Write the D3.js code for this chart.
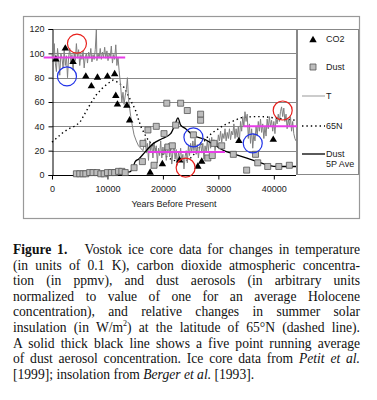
<!DOCTYPE html>
<html>
<head>
<meta charset="utf-8">
<script src="https://cdnjs.cloudflare.com/ajax/libs/d3/7.8.5/d3.min.js"></script>
<style>
  body { margin: 0; background: #fff; }
  #wrap { position: relative; width: 377px; height: 400px; overflow: hidden; }
  svg { position: absolute; left: 0; top: 0; }
  .cap { position: absolute; left: 13px; top: 242px; width: 347px; font-family: "Liberation Serif", "Times New Roman", serif; font-size: 13.6px; line-height: 15.6px; color: #111; }
  .cap div { text-align: justify; text-align-last: justify; white-space: nowrap; }
  .cap div.last { text-align-last: left; }
</style>
</head>
<body>
<div id="wrap"><svg width="377" height="400"></svg><div class="cap"></div></div>
<script>
// temperature (0.1 K), year before present
let tempSeries = [[0,100],[200,88],[400,108],[600,92],[800,85],[1000,104],[1200,95],[1400,82],[1600,100],[1800,96],[2000,88],[2200,103],[2400,90],[2600,98],[2800,80],[3000,97],[3200,104],[3400,92],[3600,99],[3800,86],[4000,100],[4200,94],[4400,108],[4600,96],[4800,103],[5000,90],[5200,99],[5400,95],[5600,102],[5800,88],[6000,97],[6200,100],[6400,92],[6600,101],[6800,96],[7000,104],[7200,93],[7400,99],[7600,95],[7800,103],[8000,120],[8100,94],[8300,100],[8500,96],[8700,104],[8900,95],[9100,101],[9300,97],[9500,105],[9700,96],[9900,102],[10100,94],[10300,100],[10500,97],[10700,106],[10900,92],[11100,99],[11300,95],[11500,107],[11700,90],[11900,97],[12100,86],[12400,72],[12600,60],[12800,68],[13000,58],[13200,65],[13400,70],[13600,80],[13800,62],[14000,55],[14200,48],[14500,40],[14800,33],[15200,28],[15600,24],[16000,22],[16400,20],[16800,30],[17000,18],[17200,26],[17400,12],[17600,28],[17800,20],[18000,25],[18200,14],[18400,27],[18600,18],[18800,24],[19000,10],[19200,22],[19400,16],[19600,28],[19800,14],[20000,23],[20200,17],[20400,25],[20600,12],[20800,20],[21000,26],[21200,15],[21400,22],[21600,9],[21800,19],[22000,24],[22200,13],[22400,21],[22600,8],[22800,18],[23000,14],[23200,22],[23400,11],[23600,17],[23800,5],[24000,15],[24200,20],[24400,10],[24600,24],[24800,16],[25000,26],[25200,18],[25400,28],[25600,20],[25800,30],[26000,17],[26200,25],[26400,14],[26600,22],[26800,27],[27000,18],[27200,26],[27400,13],[27600,24],[27800,19],[28000,28],[28200,20],[28400,30],[28600,22],[28800,31],[29000,24],[29200,29],[29400,20],[29600,26],[29800,23],[30000,33],[30200,28],[30400,36],[30600,27],[30800,34],[31000,30],[31200,38],[31400,28],[31600,35],[31800,30],[32000,38],[32200,29],[32400,36],[32600,33],[32800,42],[33000,30],[33200,38],[33400,31],[33600,40],[33800,28],[34000,44],[34200,36],[34400,48],[34600,40],[34800,52],[35000,44],[35200,50],[35400,30],[35600,42],[35800,26],[36000,38],[36200,22],[36400,34],[36600,28],[36800,40],[37000,32],[37200,44],[37400,36],[37600,46],[37800,35],[38000,42],[38200,30],[38400,40],[38600,32],[38800,46],[39000,38],[39200,48],[39400,40],[39600,45],[39800,36],[40000,44],[40200,34],[40400,46],[40600,42],[40800,50],[41000,44],[41200,52],[41400,56],[41600,48],[41800,55],[42000,44],[42200,50],[42400,38],[42600,46],[42800,40],[43000,48],[43200,36],[43400,44],[43600,34],[43800,30],[44000,28]]

// CO2 (ppmv, relative)
let co2Series = [[700,95],[2400,104],[3800,93],[6100,81],[7100,73],[8200,80],[10000,81],[11300,83],[11500,65],[11800,58],[13500,57],[14000,45],[17700,2],[19900,9],[23000,12],[26300,7],[27000,11],[33700,28],[39900,29]]

// dust (arbitrary units)
let dustSeries = [[4400,1],[5000,1],[5600,1],[6100,1],[6800,2],[7400,2],[8100,2],[8800,1],[9400,1],[10000,2],[10700,2],[11300,2],[12000,3],[12600,3],[13200,2],[14800,6],[16300,11],[16400,26],[17300,37],[18400,8],[18800,40],[20200,34],[20700,59],[20900,23],[21700,24],[22300,41],[23200,59],[24400,53],[25500,33],[26800,50],[26800,45],[28100,14],[28900,16],[29200,26],[30600,24],[32700,17],[35100,4],[36700,17],[37100,10],[38900,7],[40900,7],[42800,8]]

// dust 5 point running average
let dustAvgSeries = [[4400,1.5],[8000,1.5],[12000,2],[14000,2.5],[14600,6],[15000,11],[15600,13],[16800,19],[18300,26],[19900,30],[21400,34],[22300,43],[22700,47],[23200,41],[24100,38],[25300,33],[27700,29],[29500,24],[31000,20],[33000,17],[35000,14],[37000,11],[39000,8],[41000,7],[44000,7]]

// 65N summer insolation (relative)
let insolSeries = [[0,27],[1000,31],[2000,35],[3000,38],[4000,40],[5000,43],[6000,51],[7000,59],[8000,66],[9000,71],[10000,75],[11000,78],[12000,76],[13000,72],[14000,63],[15000,54],[16000,40],[17000,31],[18000,25],[19000,20],[20000,17],[21000,14],[22000,12],[23000,11],[24000,11],[25000,14],[26000,19],[27000,25],[28000,31],[29000,35],[30000,38],[31000,41],[32000,43],[33000,45],[34000,47],[36000,48],[38000,48],[40000,47],[42000,46],[44000,45]]

// annotations: magenta levels [from, to, value], circles [year, value, colour]
let levelMarks = [[-1500,13200,96.5],[17300,31200,19],[34500,45200,40]]
let circleMarks = [[4500,108,'red'],[2700,81,'blue'],[24100,6,'red'],[25500,31,'blue'],[36200,26,'blue'],[41600,53,'red']]

let xTicks = [0,10000,20000,30000,40000]
let yTicks = [0,20,40,60,80,100,120]

let svg = d3.select('svg')
let font = 'Liberation Sans, Arial, sans-serif'

let x = d3.scaleLinear().domain([0,44000]).range([52,296])
let y = d3.scaleLinear().domain([0,120]).range([175,29])

// outer frame
svg.append('rect').attr('x',23.5).attr('y',16.5).attr('width',336).attr('height',202)
   .attr('fill','none').attr('stroke','#999').attr('stroke-width',1.2)

// gridlines
svg.append('g').selectAll('line').data(yTicks.slice(1)).enter().append('line')
   .attr('x1',x(0)).attr('x2',x(44000)).attr('y1',d=>Math.round(y(d))+0.5).attr('y2',d=>Math.round(y(d))+0.5)
   .attr('stroke','#888').attr('stroke-width',1)
svg.append('line').attr('x1',x(44000)+0.5).attr('x2',x(44000)+0.5).attr('y1',y(120)).attr('y2',y(0))
   .attr('stroke','#888')

// axes
let gx = svg.append('g').attr('transform','translate(0,' + (Math.round(y(0))+0.5) + ')')
gx.call(d3.axisBottom(x).tickValues(d3.range(0,44001,2000)).tickSize(3).tickFormat(''))
gx.call(d3.axisBottom(x).tickValues(xTicks).tickSize(4).tickFormat(d3.format('d')))
gx.select('.domain').remove()
gx.append('line').attr('x1',x(0)).attr('x2',x(44000)).attr('stroke','#000')
gx.selectAll('text').attr('font-family',font).attr('font-size',9).attr('fill','#222').attr('dy','1.0em')

let gy = svg.append('g').attr('transform','translate(' + (Math.round(x(0))+0.5) + ',0)')
gy.call(d3.axisLeft(y).tickValues(d3.range(0,121,5)).tickSize(3).tickFormat(''))
gy.call(d3.axisLeft(y).tickValues(yTicks).tickSize(4).tickFormat(d3.format('d')))
gy.selectAll('text').attr('font-family',font).attr('font-size',9).attr('fill','#222').attr('x',-8)

svg.append('text').attr('x',174).attr('y',207).attr('text-anchor','middle')
   .attr('font-family',font).attr('font-size',9).attr('fill','#222').text('Years Before Present')

// series
let line = d3.line().x(d=>x(d[0])).y(d=>y(d[1]))

svg.append('path').datum(insolSeries).attr('d',line).attr('fill','none')
   .attr('stroke','#000').attr('stroke-width',1.4).attr('stroke-dasharray','1.4,3')

svg.append('path').datum(tempSeries).attr('d',line).attr('fill','none')
   .attr('stroke','#808080').attr('stroke-width',1)

svg.append('path').datum(dustAvgSeries).attr('d',d3.line().curve(d3.curveMonotoneX).x(d=>x(d[0])).y(d=>y(d[1])))
   .attr('fill','none').attr('stroke','#000').attr('stroke-width',1.3)

svg.append('g').selectAll('path').data(dustSeries).enter().append('path')
   .attr('d',d3.symbol(d3.symbolSquare,36))
   .attr('transform',d=>`translate(${x(d[0])},${y(d[1])})`)
   .attr('fill','#bdbdbd').attr('stroke','#555').attr('stroke-width',0.8)

svg.append('g').selectAll('path').data(co2Series).enter().append('path')
   .attr('d',d3.symbol(d3.symbolTriangle,24))
   .attr('transform',d=>`translate(${x(d[0])},${y(d[1])})`)
   .attr('fill','#000')

// annotations
svg.append('g').selectAll('line').data(levelMarks).enter().append('line')
   .attr('x1',d=>x(d[0])).attr('x2',d=>x(d[1])).attr('y1',d=>y(d[2])).attr('y2',d=>y(d[2]))
   .attr('stroke','#e83de8').attr('stroke-width',2)

svg.append('g').selectAll('circle').data(circleMarks).enter().append('circle')
   .attr('cx',d=>x(d[0])).attr('cy',d=>y(d[1])).attr('r',9.5)
   .attr('fill','none').attr('stroke',d=>d[2]=='red' ? '#e8201c' : '#2032e8').attr('stroke-width',1.2)

// legend
let lg = svg.append('g')
lg.append('rect').attr('x',297.5).attr('y',29.5).attr('width',61).attr('height',145)
  .attr('fill','#fff').attr('stroke','#888')
lg.append('path').attr('d',d3.symbol(d3.symbolTriangle,24)).attr('transform','translate(313,40)').attr('fill','#000')
lg.append('path').attr('d',d3.symbol(d3.symbolSquare,36)).attr('transform','translate(313,67)')
  .attr('fill','#bdbdbd').attr('stroke','#555').attr('stroke-width',0.8)
lg.append('line').attr('x1',302).attr('x2',325).attr('y1',96).attr('y2',96).attr('stroke','#999')
lg.append('line').attr('x1',302).attr('x2',325).attr('y1',126).attr('y2',126)
  .attr('stroke','#000').attr('stroke-width',1.4).attr('stroke-dasharray','1.4,3')
lg.append('line').attr('x1',302).attr('x2',325).attr('y1',154).attr('y2',154).attr('stroke','#000').attr('stroke-width',1.3)
let legendText = [['CO2',42],['Dust',70],['T',99],['65N',129],['Dust',157],['5P Ave',167]]
lg.selectAll('text').data(legendText).enter().append('text')
  .attr('x',326).attr('y',d=>d[1]).attr('font-family',font).attr('font-size',9).attr('fill','#222')
  .text(d=>d[0])

// caption
let capLines = [
  '<b>Figure 1.</b>&nbsp;&nbsp; Vostok ice core data for changes in temperature',
  '(in units of 0.1 K), carbon dioxide atmospheric concentra-',
  'tion (in ppmv), and dust aerosols (in arbitrary units',
  'normalized to value of one for an average Holocene',
  'concentration), and relative changes in summer solar',
  'insulation (in W/m<sup style="font-size:8px;line-height:0">2</sup>) at the latitude of 65°N (dashed line).',
  'A solid thick black line shows a five point running average',
  'of dust aerosol concentration. Ice core data from <i>Petit et al.</i>',
  '[1999]; insolation from <i>Berger et al.</i> [1993].'
]
d3.select('.cap').selectAll('div').data(capLines).enter().append('div')
  .attr('class',(d,i)=>i==capLines.length-1 ? 'last' : null)
  .html(d=>d)
</script>
</body>
</html>
